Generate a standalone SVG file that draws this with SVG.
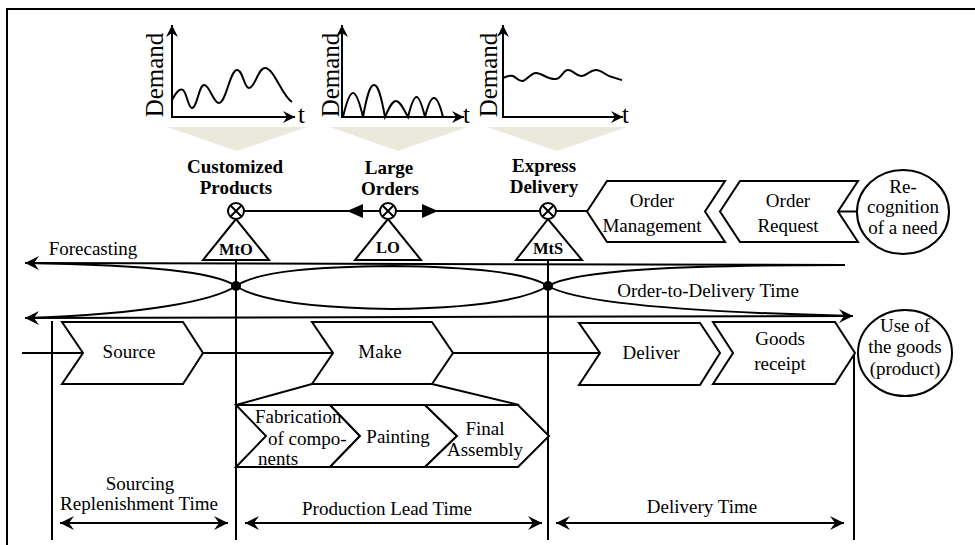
<svg xmlns="http://www.w3.org/2000/svg" width="975" height="545" viewBox="0 0 975 545">
<defs>
<style>
.ln{stroke:#000;stroke-width:2;fill:none}
.sh{fill:#fff;stroke:#000;stroke-width:2}
.bg{fill:#ebe8dc;stroke:none}
.t{font-family:"Liberation Serif",serif;font-size:19px;fill:#000;text-anchor:middle}
.b{font-weight:bold}
.tri{font-size:16.5px}
.dm{font-family:"Liberation Serif",serif;font-size:25px;fill:#000}
</style>
<marker id="ah" viewBox="-15 -8 16 16" refX="0" refY="0" markerWidth="16" markerHeight="16" markerUnits="userSpaceOnUse" orient="auto-start-reverse"><path d="M0,0 L-14,-7 L-9,0 L-14,7 Z" fill="#000"/></marker>
<marker id="as" viewBox="-13 -7 14 14" refX="0" refY="0" markerWidth="14" markerHeight="14" markerUnits="userSpaceOnUse" orient="auto-start-reverse"><path d="M0,0 L-12,-6 L-8,0 L-12,6 Z" fill="#000"/></marker>
</defs>
<rect width="975" height="545" fill="#fff"/>
<g id="frame"><path class="ln" d="M7,545 L7,9 L975,9"/></g>

<g id="chart-mto">
<polygon class="bg" points="167,127 307,127 237,151"/>
<path class="ln" d="M172,118 L172,25" marker-end="url(#as)"/>
<path class="ln" d="M171,117 L295,117" marker-end="url(#as)"/>
<path class="ln" d="M172,100 C176,92 180,88 183,90 C187,93 188,108 192,108 C197,108 199,85 204,85 C210,85 213,103 219,103 C226,103 230,70 237,70 C243,70 244,88 249,88 C255,88 258,68 265,68 C274,68 282,96 292,102"/>
<text class="dm" text-anchor="middle" transform="translate(163,75) rotate(-90)">Demand</text>
<text class="dm" x="298" y="123">t</text>
</g>
<g id="chart-lo">
<polygon class="bg" points="330,127 467,127 398,151"/>
<path class="ln" d="M342,118 L342,25" marker-end="url(#as)"/>
<path class="ln" d="M341,117 L464,117" marker-end="url(#as)"/>
<path class="ln" d="M343,117 C347,100 350,93 353,93 C356,93 359,100 363,117 C367,95 370,85 374,85 C378,85 381,95 385,117 C389,108 392,101 396,101 C400,101 403,108 408,117 C411,105 414,97 416.5,97 C419,97 422,105 425,117 C428,105 431,98 434,98 C437,98 440,105 443,117"/>
<text class="dm" text-anchor="middle" transform="translate(339,75) rotate(-90)">Demand</text>
<text class="dm" x="463" y="123">t</text>
</g>
<g id="chart-mts">
<polygon class="bg" points="487,127 627,127 557,151"/>
<path class="ln" d="M503,118 L503,25" marker-end="url(#as)"/>
<path class="ln" d="M502,117 L623,117" marker-end="url(#as)"/>
<path class="ln" d="M503,78 C507,76 510,75 513,76 C517,78 519,82 523,81 C528,79 531,73 536,73 C542,73 548,80 556,79 C562,78 563,70 568,70 C574,70 576,77 582,76 C588,75 590,70 596,70 C602,70 606,76 612,77 C616,78 620,80 622,80"/>
<text class="dm" text-anchor="middle" transform="translate(497,75) rotate(-90)">Demand</text>
<text class="dm" x="622" y="123">t</text>
</g>

<g id="connectors">
<path class="ln" d="M244,211 L587,211"/>
<polygon points="347,211 363,204 363,218" fill="#000"/>
<polygon points="438,211 422,204 422,218" fill="#000"/>
<path class="ln" d="M838,211.5 L857,211.5"/>
<path class="ln" d="M236,260 L236,540"/>
<path class="ln" d="M548,260 L548,540"/>
<path class="ln" d="M52,321 L52,540"/>
<path class="ln" d="M854,353 L854,540"/>
<path class="ln" d="M22,353 L83,353"/>
<path class="ln" d="M203,353 L333,353"/>
<path class="ln" d="M453,353 L600,353"/>
<path class="ln" d="M845,265 L25,263" marker-end="url(#ah)"/>
<path class="ln" d="M25,318 L853,316" marker-start="url(#ah)" marker-end="url(#ah)"/>
<path class="ln" d="M25,263 C150,265 215,272 236,286 C260,270 320,267 392,266 C470,267 525,272 548,286 C575,270 680,265 845,265"/>
<path class="ln" d="M25,318 C150,314 215,300 236,286 C260,302 320,308 392,309 C470,308 525,300 548,286 C575,302 680,312 853,316"/>
<circle cx="236" cy="286" r="5" fill="#000"/>
<circle cx="548" cy="286" r="5" fill="#000"/>
<path class="ln" d="M312,384 L236,405 M432,384 L519,405"/>
<path class="ln" d="M60,523 L228,523" marker-start="url(#ah)" marker-end="url(#ah)"/>
<path class="ln" d="M245,523 L542,523" marker-start="url(#ah)" marker-end="url(#ah)"/>
<path class="ln" d="M556,523 L844,523" marker-start="url(#ah)" marker-end="url(#ah)"/>
</g>

<g id="mto">
<text class="t b" x="235" y="173">Customized</text>
<text class="t b" x="236" y="194">Products</text>
<polygon class="sh" points="236,219 203,260 269,260"/>
<circle class="sh" cx="236" cy="211" r="8"/>
<path class="ln" d="M230.3,205.3 L241.7,216.7 M241.7,205.3 L230.3,216.7" stroke-width="1.6"/>
<text class="t b tri" x="236" y="255">MtO</text>
</g>
<g id="lo">
<text class="t b" x="389" y="174">Large</text>
<text class="t b" x="390" y="195">Orders</text>
<polygon class="sh" points="388,219 355,260 421,260"/>
<circle class="sh" cx="388" cy="211" r="8"/>
<path class="ln" d="M382.3,205.3 L393.7,216.7 M393.7,205.3 L382.3,216.7" stroke-width="1.6"/>
<text class="t b tri" x="388" y="253">LO</text>
</g>
<g id="mts">
<text class="t b" x="544" y="172">Express</text>
<text class="t b" x="544" y="193">Delivery</text>
<polygon class="sh" points="548,219 516,260 582,260"/>
<circle class="sh" cx="548" cy="211" r="8"/>
<path class="ln" d="M542.3,205.3 L553.7,216.7 M553.7,205.3 L542.3,216.7" stroke-width="1.6"/>
<text class="t b tri" x="548" y="254">MtS</text>
</g>

<g id="order-management">
<polygon class="sh" points="587,211.5 607,181 725,181 705,211.5 725,242 607,242"/>
<text class="t" x="652" y="207">Order</text>
<text class="t" x="652" y="232">Management</text>
</g>
<g id="order-request">
<polygon class="sh" points="720,211.5 740,181 858,181 838,211.5 858,242 740,242"/>
<text class="t" x="788" y="207">Order</text>
<text class="t" x="788" y="232">Request</text>
</g>
<g id="recognition">
<ellipse class="sh" cx="903" cy="212" rx="46" ry="42"/>
<text class="t" x="903" y="193">Re-</text>
<text class="t" x="903" y="213">cognition</text>
<text class="t" x="903" y="234">of a need</text>
</g>

<g id="forecasting-label"><text class="t" x="93" y="255">Forecasting</text></g>
<g id="otd-label"><text class="t" x="708" y="297">Order-to-Delivery Time</text></g>

<g id="source">
<polygon class="sh" points="62,322 183,322 203,353 183,384 62,384 83,353"/>
<text class="t" x="129" y="358">Source</text>
</g>
<g id="make">
<polygon class="sh" points="312,322 432,322 453,353 432,384 312,384 333,353"/>
<text class="t" x="380" y="358">Make</text>
</g>
<g id="deliver">
<polygon class="sh" points="579,323 700,323 720,353 700,385 579,385 600,353"/>
<text class="t" x="651" y="359">Deliver</text>
</g>
<g id="goods-receipt">
<polygon class="sh" points="713,322 835,322 855,353 835,384 713,384 733,353"/>
<text class="t" x="780" y="345">Goods</text>
<text class="t" x="780" y="370">receipt</text>
</g>
<g id="use-of-goods">
<ellipse class="sh" cx="905" cy="353" rx="47" ry="43"/>
<text class="t" x="905" y="332">Use of</text>
<text class="t" x="905" y="353">the goods</text>
<text class="t" x="905" y="375">(product)</text>
</g>

<g id="sub-process">
<path class="ln" d="M236,405 L519,405"/>
</g>
<g id="fabrication">
<polygon class="sh" points="236,405 330,405 360,436 330,467 236,467 266,436"/>
<text class="t" x="255" y="423" style="text-anchor:start">Fabrication</text>
<text class="t" x="268" y="445" style="text-anchor:start">of compo-</text>
<text class="t" x="258" y="465" style="text-anchor:start">nents</text>
</g>
<g id="painting">
<polygon class="sh" points="330,405 425,405 457,436 425,467 330,467 360,436"/>
<text class="t" x="398" y="443">Painting</text>
</g>
<g id="final-assembly">
<polygon class="sh" points="425,405 518,405 549,436 518,467 425,467 457,436"/>
<text class="t" x="485" y="435">Final</text>
<text class="t" x="485" y="456">Assembly</text>
</g>
<path class="ln" d="M236,405 L236,467"/>

<g id="time-labels">
<text class="t" x="140" y="490">Sourcing</text>
<text class="t" x="139" y="510">Replenishment Time</text>
<text class="t" x="387" y="515">Production Lead Time</text>
<text class="t" x="702" y="513">Delivery Time</text>
</g>
</svg>
